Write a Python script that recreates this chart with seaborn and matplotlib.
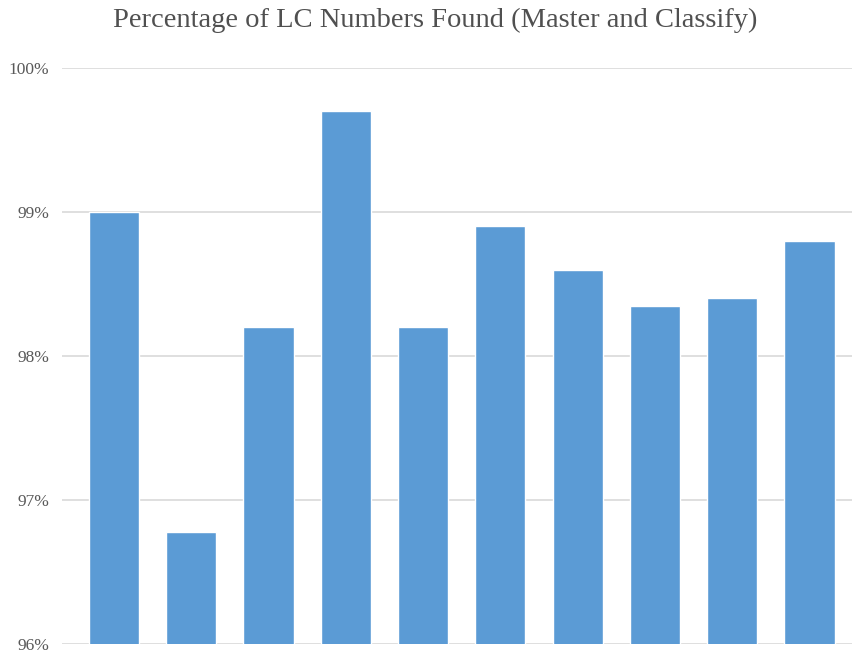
import matplotlib
matplotlib.use("Agg")
import matplotlib.pyplot as plt
import seaborn as sns
import pandas as pd
from matplotlib.ticker import FuncFormatter

categories = ["1", "2", "3", "4", "5", "6", "7", "8", "9", "10"]
values = [99.0, 96.78, 98.2, 99.7, 98.2, 98.9, 98.6, 98.35, 98.4, 98.8]
yticks = [96, 97, 98, 99, 100]

df = pd.DataFrame({"cat": categories, "val": values})

sns.set_theme(style="white")
plt.rcParams["font.family"] = ["Liberation Serif", "DejaVu Serif"]

fig = plt.figure(figsize=(8.54, 6.51), dpi=100)
ax = fig.add_axes([0.0726, 0.0108, 0.925, 0.8847])

sns.barplot(data=df, x="cat", y="val", color="#5B9BD5", saturation=1,
            width=0.65, ax=ax, zorder=3)

ax.set_ylim(96, 100)
ax.set_xlim(-0.673, 9.55)
ax.set_yticks(yticks)
ax.yaxis.set_major_formatter(FuncFormatter(lambda v, p: f"{int(v)}%"))
ax.set_xticks([])
ax.set_xlabel("")
ax.set_ylabel("")
ax.grid(axis="y", color="#d9d9d9", linewidth=1.2, zorder=0)
for s in ax.spines.values():
    s.set_visible(False)
ax.tick_params(axis="y", length=0, pad=9, labelsize=12.5, labelcolor="#595959")

fig.text(0.51, 0.968, "Percentage of LC Numbers Found (Master and Classify)",
         ha="center", va="center", fontsize=20.5, color="#505050")

fig.savefig("out.png", dpi=100)
